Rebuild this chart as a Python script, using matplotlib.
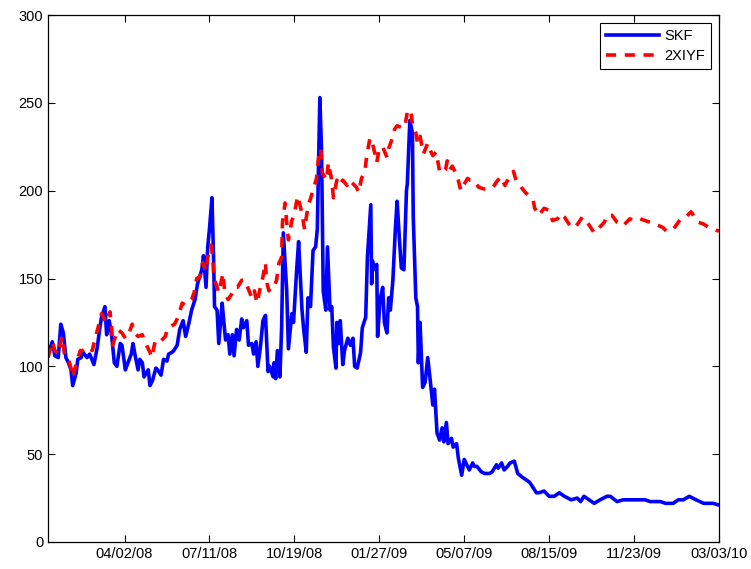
import numpy as np
import matplotlib
matplotlib.use("Agg")
import matplotlib.pyplot as plt
import matplotlib.dates as mdates

plt.rcParams['font.family'] = ['Liberation Sans', 'DejaVu Sans']

start = np.datetime64('2008-01-03')
end = np.datetime64('2010-03-03')

# days since 2008-01-03
skf_days = [0, 5, 8, 12, 15, 18, 21, 24, 27, 29, 33, 35, 39, 41, 46, 49, 54, 58, 61, 63,
            67, 69, 72, 75, 78, 81, 85, 87, 91, 94, 98, 100, 103, 106, 108, 111, 113, 118, 120, 123,
            127, 129, 133, 136, 140, 142, 146, 148, 152, 155, 159, 162, 166, 169, 173, 176, 181, 183, 186, 188,
            190, 193, 195, 196, 199, 201, 205, 207, 209, 212, 214, 217, 219, 222, 225, 228, 230, 234, 236, 240,
            242, 245, 247, 250, 253, 256, 259, 261, 265, 266, 268, 270, 273, 275, 277, 281, 283, 287, 289, 293,
            295, 299, 301, 304, 306, 309, 312, 315, 317, 320, 322, 324, 327, 329, 332, 334, 336, 339, 340, 342,
            344, 347, 349, 353, 356, 359, 361, 364, 368, 370, 374, 376, 380, 381, 382, 384, 387, 388, 391, 394,
            396, 399, 401, 403, 406, 409, 411, 414, 416, 419, 422, 423, 426, 429, 430, 433, 435, 436, 438, 441,
            444, 447, 450, 453, 455, 458, 461, 464, 466, 469, 471, 475, 477, 481, 483, 487, 490, 494, 496, 500,
            502, 505, 510, 514, 520, 523, 528, 530, 534, 537, 541, 544, 549, 553, 558, 564, 567, 575, 578, 584,
            590, 596, 602, 608, 616, 623, 627, 631, 637, 643, 650, 658, 662, 670, 677, 685, 689, 695, 703, 709,
            721, 727, 736, 742, 748, 755, 763, 772, 783, 790]
skf_vals = [107, 114, 106, 105, 124, 119, 105, 102, 98, 89, 96, 104, 105, 108, 105, 107, 101, 111, 122, 128,
            134, 118, 126, 117, 102, 100, 113, 112, 98, 102, 107, 113, 105, 98, 104, 102, 94, 98, 89, 92,
            99, 98, 95, 104, 103, 107, 108, 109, 112, 121, 126, 117, 125, 132, 138, 147, 155, 163, 145, 168,
            178, 196, 159, 134, 132, 113, 136, 125, 115, 118, 107, 118, 106, 121, 115, 127, 122, 126, 112, 113,
            107, 114, 100, 111, 126, 129, 97, 100, 94, 102, 93, 109, 94, 122, 176, 143, 110, 130, 125, 157,
            171, 132, 121, 108, 139, 134, 166, 168, 178, 253, 223, 143, 132, 168, 132, 134, 111, 99, 125, 113,
            126, 101, 109, 116, 112, 116, 100, 99, 108, 122, 128, 162, 192, 147, 160, 155, 158, 117, 138, 145,
            125, 119, 139, 132, 149, 179, 194, 170, 156, 155, 200, 204, 240, 233, 185, 139, 134, 102, 125, 88,
            91, 105, 92, 78, 87, 62, 58, 65, 57, 68, 56, 59, 54, 56, 48, 38, 47, 43, 41, 45,
            43, 43, 40, 39, 39, 40, 44, 42, 45, 41, 43, 45, 46, 39, 37, 35, 34, 28, 28, 29,
            26, 26, 28, 26, 24, 25, 23, 26, 24, 22, 24, 26, 26, 23, 24, 24, 24, 24, 24, 23,
            23, 22, 22, 24, 24, 26, 24, 22, 22, 21]

xiyf_days = [0, 5, 8, 12, 16, 20, 24, 27, 29, 34, 38, 41, 46, 52, 55, 61, 63, 68, 73, 75,
             76, 82, 87, 91, 94, 99, 102, 106, 111, 114, 120, 122, 126, 130, 134, 138, 141,
             149, 153, 158, 161, 165, 169, 172, 175, 179, 182, 186, 188, 192, 194, 195, 199, 201, 206,
             208, 212, 216, 220, 223, 228, 232, 235, 240, 243, 246, 249, 253, 256, 257, 260, 263, 266,
             269, 272, 275, 276, 279, 281, 283, 287, 290, 294, 299, 302, 306, 310, 313, 316, 319, 321,
             323, 328, 330, 334, 336, 340, 343, 347, 352, 355, 359, 363, 366, 369, 373, 375, 379, 381,
             383, 387, 390, 394, 399, 401, 404, 408, 411, 416, 420, 423, 427, 429, 433, 435, 438, 442,
             447, 450, 453, 457, 461, 464, 468, 470, 473, 476, 482, 486, 489, 494, 497, 501, 507, 513,
             518, 524, 528, 533, 538, 542, 548, 551, 557, 562, 571, 573, 578, 584, 589, 594, 600, 604,
             608, 616, 622, 625, 629, 635, 643, 649, 655, 658, 664, 670, 677, 685, 689, 697, 703, 709,
             715, 724, 728, 736, 739, 745, 751, 757, 766, 772, 778, 783, 790]
xiyf_vals = [105, 114, 109, 107, 117, 105, 104, 99, 94, 103, 109, 109, 111, 109, 115, 126, 130, 125, 131, 121,
             112, 121, 119, 116, 117, 124, 119, 117, 118, 114, 108, 105, 114, 113, 115, 117, 122,
             124, 128, 136, 135, 136, 138, 142, 150, 151, 159, 154, 162, 169, 162, 151, 145, 142, 153,
             142, 138, 141, 145, 145, 149, 149, 145, 139, 143, 136, 143, 151, 159, 149, 143, 145, 145,
             149, 159, 162, 182, 193, 182, 172, 183, 187, 197, 187, 178, 191, 197, 202, 207, 221, 224,
             210, 206, 216, 206, 196, 206, 203, 206, 203, 206, 204, 202, 199, 207, 211, 219, 230, 228,
             225, 216, 224, 225, 219, 224, 228, 235, 237, 236, 236, 245, 246, 238, 233, 227, 231, 221,
             227, 223, 220, 222, 211, 210, 212, 217, 212, 214, 208, 200, 203, 207, 206, 206, 202, 201,
             201, 202, 205, 208, 203, 207, 211, 206, 202, 199, 195, 190, 186, 190, 189, 183, 184, 187,
             185, 179, 180, 182, 185, 182, 176, 179, 182, 186, 186, 182, 180, 184, 183, 184, 183, 182,
             181, 179, 177, 178, 180, 184, 185, 188, 182, 181, 179, 178, 177]

skf_dates = start + np.array(skf_days).astype('timedelta64[D]')
xiyf_dates = start + np.array(xiyf_days).astype('timedelta64[D]')
tick_dates = np.datetime64('2008-04-02') + np.arange(0, 800, 100).astype('timedelta64[D]')

fig = plt.figure(figsize=(7.51, 5.69), dpi=100)
ax = fig.add_axes([0.064, 0.0475, 0.8934, 0.926])

ax.plot(skf_dates, skf_vals, color='#0000ff', lw=2.6, label='SKF')
ax.plot(xiyf_dates, xiyf_vals, color='#ff0000', lw=2.6, linestyle=(0, (2.8, 2.4)), label='2XIYF')

ax.set_xlim(start, end)
ax.set_ylim(0, 300)
ax.set_yticks(np.arange(0, 301, 50))
ax.set_xticks(tick_dates)
ax.xaxis.set_major_formatter(mdates.DateFormatter('%m/%d/%y'))
ax.tick_params(direction='in', top=True, right=True, length=5, width=0.8, labelsize=10.5)
for s in ax.spines.values():
    s.set_linewidth(0.9)

leg = ax.legend(loc='upper right', fontsize=10.5, fancybox=False, edgecolor='black',
                framealpha=1, handlelength=3.6, borderaxespad=0.55, borderpad=0.4,
                labelspacing=0.45, handletextpad=0.4)
leg.get_frame().set_linewidth(0.8)

fig.savefig('out.png', dpi=100)
